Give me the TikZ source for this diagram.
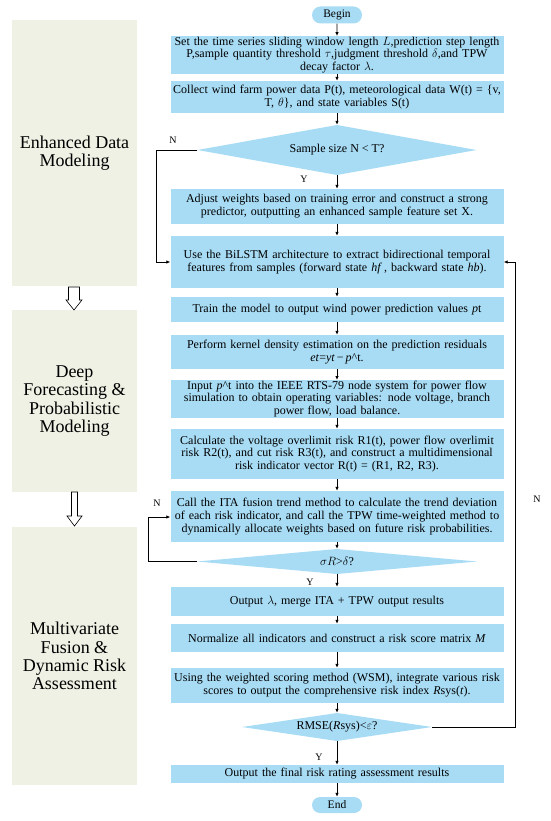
\documentclass[tikz,border=0pt]{standalone}
\usepackage{fontspec}
\setmainfont{Liberation Serif}
\usetikzlibrary{shapes.geometric,shapes.misc,arrows.meta}
\definecolor{boxblue}{HTML}{A8DCF5}
\definecolor{panelc}{HTML}{EEF1E4}
\tikzset{
  flowbox/.style={rectangle, fill=boxblue, minimum width=332pt, text width=332pt, align=center, inner sep=0.5pt, font=\fontsize{12}{12.8}\selectfont},
  decbox/.style={rectangle, inner sep=0pt, font=\fontsize{12}{12.8}\selectfont,
    path picture={\fill[boxblue] (path picture bounding box.north) -- (path picture bounding box.east) -- (path picture bounding box.south) -- (path picture bounding box.west) -- cycle;}},
  termbox/.style={rounded rectangle, fill=boxblue, minimum width=50pt, inner sep=0pt, font=\fontsize{11.5}{12}\selectfont},
  panel/.style={rectangle, fill=panelc, minimum width=125pt, align=center, font=\fontsize{18}{18.3}\selectfont},
  conn/.style={draw=black, line width=0.8pt, -{Latex[length=4pt,width=3.5pt]}},
  lbl/.style={font=\fontsize{10}{11}\selectfont, inner sep=0pt},
  hollow/.style={draw=black, fill=white, line width=0.6pt}
}
\begin{document}
\begin{tikzpicture}[x=1pt,y=-1pt]
\path[use as bounding box] (0,0) rectangle (550,821);
% left panels
\node[panel, minimum height=266pt] (p1) at (74.5,153) {Enhanced Data\\ Modeling};
\node[panel, minimum height=182pt] (p2) at (74.5,401) {Deep\\ Forecasting \&\\ Probabilistic\\ Modeling};
\node[panel, minimum height=258pt] (p3) at (74.5,656) {Multivariate\\ Fusion \&\\ Dynamic Risk\\ Assessment};
\draw[hollow] (68.5,287) -- (79.5,287) -- (79.5,300) -- (82,300) -- (74,310) -- (66,300) -- (68.5,300) -- cycle;
\draw[hollow] (71.5,492) -- (77.5,492) -- (77.5,516) -- (82,516) -- (74.5,526) -- (67,516) -- (71.5,516) -- cycle;
% flow
\node[termbox, minimum height=17pt] (begin) at (337,15) {Begin};
\node[flowbox, minimum height=34pt] (b1) at (337,55) {Set the time series sliding window length $L$,prediction step length\\ P,sample quantity threshold $\tau$,judgment threshold $\delta$,and TPW\\ decay factor $\lambda$.};
\node[flowbox, minimum height=32pt] (b2) at (337,97) {Collect wind farm power data P(t), meteorological data W(t) = \{v,\\ T, $\theta$\}, and state variables S(t)};
\node[decbox, minimum width=279pt, minimum height=50pt] (d1) at (337,150) {Sample size N < T?};
\node[flowbox, minimum height=35pt] (b3) at (337,206.5) {Adjust weights based on training error and construct a strong\\ predictor, outputting an enhanced sample feature set X.};
\node[flowbox, minimum height=52pt] (b4) at (337,262) {Use the BiLSTM architecture to extract bidirectional temporal\\ features from samples (forward state \textit{hf}\,, backward state \textit{hb}).};
\node[flowbox, minimum height=25pt] (b5) at (337,309.5) {Train the model to output wind power prediction values \textit{p}t};
\node[flowbox, minimum height=34pt] (b6) at (337,352) {Perform kernel density estimation on the prediction residuals\\ \textit{et}=\textit{yt}\,−\,\textit{p}\^{}t.};
\node[flowbox, minimum height=34pt] (b7) at (337,399) {Input \textit{p}\^{}t into the IEEE RTS-79 node system for power flow\\ simulation to obtain operating variables: node voltage, branch\\ power flow, load balance.};
\node[flowbox, minimum height=50pt] (b8) at (337,454) {Calculate the voltage overlimit risk R1(t), power flow overlimit\\ risk R2(t), and cut risk R3(t), and construct a multidimensional\\ risk indicator vector R(t) = (R1, R2, R3).};
\node[flowbox, minimum height=51pt] (b9) at (337,516.5) {Call the ITA fusion trend method to calculate the trend deviation\\ of each risk indicator, and call the TPW time-weighted method to\\ dynamically allocate weights based on future risk probabilities.};
\node[decbox, minimum width=280pt, minimum height=25pt] (d2) at (337,561.5) {$\sigma R$>$\delta$?};
\node[flowbox, minimum height=29pt] (b10) at (337,601.5) {Output $\lambda$, merge ITA + TPW output results};
\node[flowbox, minimum height=28pt] (b11) at (337,638) {Normalize all indicators and construct a risk score matrix \textit{M}};
\node[flowbox, minimum height=35pt] (b12) at (337,685.5) {Using the weighted scoring method (WSM), integrate various risk\\ scores to output the comprehensive risk index \textit{R}sys(\textit{t}).};
\node[decbox, minimum width=190pt, minimum height=28pt] (d3) at (337,727) {RMSE(\textit{R}sys)<$\varepsilon$?};
\node[flowbox, minimum height=18pt] (b13) at (337,774) {Output the final risk rating assessment results};
\node[termbox, minimum height=16pt] (end) at (337,805) {End};
% connectors
\draw[conn] (begin) -- (b1);
\draw[conn] (b1) -- (b2);
\draw[conn] (b2) -- (d1);
\draw[conn] (d1) -- (b3);
\draw[conn] (b3) -- (b4);
\draw[conn] (b4) -- (b5);
\draw[conn] (b5) -- (b6);
\draw[conn] (b6) -- (b7);
\draw[conn] (b7) -- (b8);
\draw[conn] (b8) -- (b9);
\draw[conn] (b9) -- (d2);
\draw[conn] (d2) -- (b10);
\draw[conn] (b10) -- (b11);
\draw[conn] (b11) -- (b12);
\draw[conn] (b12) -- (d3);
\draw[conn] (d3) -- (b13);
\draw[conn] (b13) -- (end);
\coordinate (l1) at (156,150);
\draw[conn] (d1.west) -- (l1) |- (b4.west);
\coordinate (l2) at (148,561.5);
\coordinate (l2t) at (148,517);
\draw[conn] (d2.west) -- (l2) -- (l2t) -- (b9.west |- l2t);
\coordinate (r1) at (515,727);
\draw[conn] (d3.east) -- (r1) |- (b4.east);
% labels
\node[lbl] (n1) at (173,140) {N};
\node[lbl] (y1) at (304,179) {Y};
\node[lbl] (n2) at (157,503) {N};
\node[lbl] (y2) at (310,582) {Y};
\node[lbl] (n3) at (537,499) {N};
\node[lbl] (y3) at (319,757) {Y};
\end{tikzpicture}
\end{document}
